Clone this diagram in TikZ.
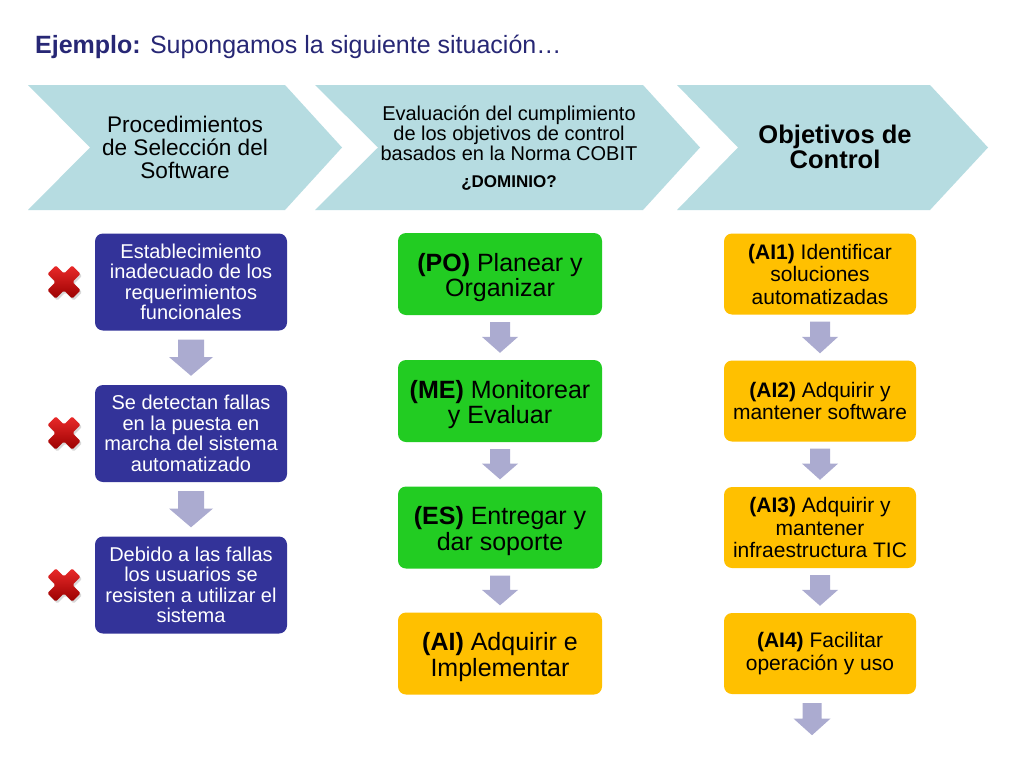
\documentclass[tikz,border=0pt]{standalone}
\usepackage{fontspec}
\setmainfont{Liberation Sans}
\usetikzlibrary{calc,shadows}
\definecolor{chevfill}{HTML}{B6DCE1}
\definecolor{navyfill}{HTML}{333399}
\definecolor{greenfill}{HTML}{22CC22}
\definecolor{orangefill}{HTML}{FFC000}
\definecolor{arrowfill}{HTML}{ABABD0}
\definecolor{titlecol}{HTML}{272775}
\definecolor{xred}{HTML}{EA2A2A}
\definecolor{xdark}{HTML}{9A0000}

\newcommand{\blockdown}[4]{%
  \fill[arrowfill] let \p1=(#1), \p2=(#2), \p3=($(#1)!0.48!(#2)$) in
    ({\x1-#3pt},\y1) -- ({\x1+#3pt},\y1) -- ({\x1+#3pt},\y3) -- ({\x1+#4pt},\y3)
    -- (\x1,\y2) -- ({\x1-#4pt},\y3) -- ({\x1-#3pt},\y3) -- cycle;}

\newcommand{\redcross}[1]{%
  \begin{scope}[shift={(#1)}, rotate=45]
    \path[rounded corners=1.5pt, top color=xred, bottom color=xdark,
          drop shadow={opacity=0.3, shadow xshift=1.5pt, shadow yshift=-2pt}]
      (6pt,6pt) -- (17.5pt,6pt) -- (17.5pt,-6pt) -- (6pt,-6pt)
      -- (6pt,-17.5pt) -- (-6pt,-17.5pt) -- (-6pt,-6pt) -- (-17.5pt,-6pt)
      -- (-17.5pt,6pt) -- (-6pt,6pt) -- (-6pt,17.5pt) -- (6pt,17.5pt) -- cycle;
  \end{scope}}

\newcommand{\gstrut}{\rule{0pt}{25pt}}

\tikzset{
  basebox/.style={rectangle, rounded corners=8pt, inner sep=0pt, align=center},
  nbox/.style={basebox, fill=navyfill, text=white, minimum width=192pt, minimum height=97pt,
               font=\fontsize{20}{20.5}\selectfont},
  gbox/.style={basebox, fill=greenfill, text=black, minimum width=204pt, minimum height=82pt,
               font=\fontsize{25}{25.5}\selectfont},
  obox/.style={basebox, fill=orangefill, text=black, minimum width=192pt, minimum height=81pt,
               font=\fontsize{21}{22.5}\selectfont},
  chev/.style={fill=chevfill},
  ctext/.style={inner sep=0pt, align=center, text=black},
}

\begin{document}
\begin{tikzpicture}[x=1pt, y=-1pt]
\useasboundingbox (0,0) rectangle (1024,768);
\fill[white] (0,0) rectangle (1024,768);

% title
\node[anchor=base west, inner sep=0pt, text=titlecol, font=\fontsize{25}{30}\selectfont] (title)
  at (35,53) {\textbf{Ejemplo:} Supongamos la siguiente situación…};

% chevrons
\fill[chev] (28,85) -- (285,85) -- (342,147.5) -- (285,210) -- (28,210) -- (90,147.5) -- cycle;
\fill[chev] (315,85) -- (643,85) -- (700,147.5) -- (643,210) -- (315,210) -- (378,147.5) -- cycle;
\fill[chev] (677,85) -- (930,85) -- (988,147.5) -- (930,210) -- (677,210) -- (738,147.5) -- cycle;

\node[ctext, font=\fontsize{22.6}{23}\selectfont] (c1) at (185,147)
  {Procedimientos\\de Selección del\\Software};
\node[ctext, font=\fontsize{20}{20}\selectfont] (c2) at (509,133)
  {Evaluación del cumplimiento\\de los objetivos de control\\basados en la Norma COBIT};
\node[ctext, font=\fontsize{17}{20}\selectfont\bfseries] (c2b) at (509,183) {¿DOMINIO?};
\node[ctext, font=\fontsize{25.5}{25}\selectfont\bfseries] (c3) at (835,147)
  {Objetivos de\\Control};

% left column
\node[nbox] (n1) at (191,282) {Establecimiento\\inadecuado de los\\requerimientos\\funcionales};
\node[nbox] (n2) at (191,433.5) {Se detectan fallas\\en la puesta en\\marcha del sistema\\automatizado};
\node[nbox] (n3) at (191,585) {Debido a las fallas\\los usuarios se\\resisten a utilizar el\\sistema};

\redcross{64,282}
\redcross{64,433}
\redcross{64,585}

% middle column
\node[gbox] (g1) at (500,274) {\gstrut\textbf{(PO)} Planear y\\Organizar};
\node[gbox] (g2) at (500,401) {\gstrut\textbf{(ME)} Monitorear\\y Evaluar};
\node[gbox] (g3) at (500,527.5) {\gstrut\textbf{(ES)} Entregar y\\dar soporte};
\node[gbox, fill=orangefill] (g4) at (500,653.5) {\gstrut\textbf{(AI)} Adquirir e\\Implementar};

% right column
\node[obox] (o1) at (820,274) {\textbf{(AI1)} Identificar\\soluciones\\automatizadas};
\node[obox] (o2) at (820,401) {\textbf{(AI2)} Adquirir y\\mantener software};
\node[obox] (o3) at (820,527.5) {\textbf{(AI3)} Adquirir y\\mantener\\infraestructura TIC};
\node[obox] (o4) at (820,653.5) {\textbf{(AI4)} Facilitar\\operación y uso};

% arrow end points
\coordinate (na1) at ($(n1.south)+(0,9)$);  \coordinate (nb1) at ($(n2.north)+(0,-9)$);
\coordinate (na2) at ($(n2.south)+(0,9)$);  \coordinate (nb2) at ($(n3.north)+(0,-9)$);
\coordinate (ga1) at ($(g1.south)+(0,7)$);  \coordinate (gb1) at ($(g2.north)+(0,-7)$);
\coordinate (ga2) at ($(g2.south)+(0,7)$);  \coordinate (gb2) at ($(g3.north)+(0,-7)$);
\coordinate (ga3) at ($(g3.south)+(0,7)$);  \coordinate (gb3) at ($(g4.north)+(0,-7)$);
\coordinate (oa1) at ($(o1.south)+(0,7)$);  \coordinate (ob1) at ($(o2.north)+(0,-7)$);
\coordinate (oa2) at ($(o2.south)+(0,7)$);  \coordinate (ob2) at ($(o3.north)+(0,-7)$);
\coordinate (oa3) at ($(o3.south)+(0,7)$);  \coordinate (ob3) at ($(o4.north)+(0,-7)$);
\coordinate (oa4) at ($(o4.south)+(-8,9)$); \coordinate (oend) at ($(o4.south)+(-8,41)$);

\blockdown{na1}{nb1}{13}{22}
\blockdown{na2}{nb2}{13}{22}
\blockdown{ga1}{gb1}{10}{18}
\blockdown{ga2}{gb2}{10}{18}
\blockdown{ga3}{gb3}{10}{18}
\blockdown{oa1}{ob1}{10}{18}
\blockdown{oa2}{ob2}{10}{18}
\blockdown{oa3}{ob3}{10}{18}
\blockdown{oa4}{oend}{9.5}{18.5}
\end{tikzpicture}
\end{document}
